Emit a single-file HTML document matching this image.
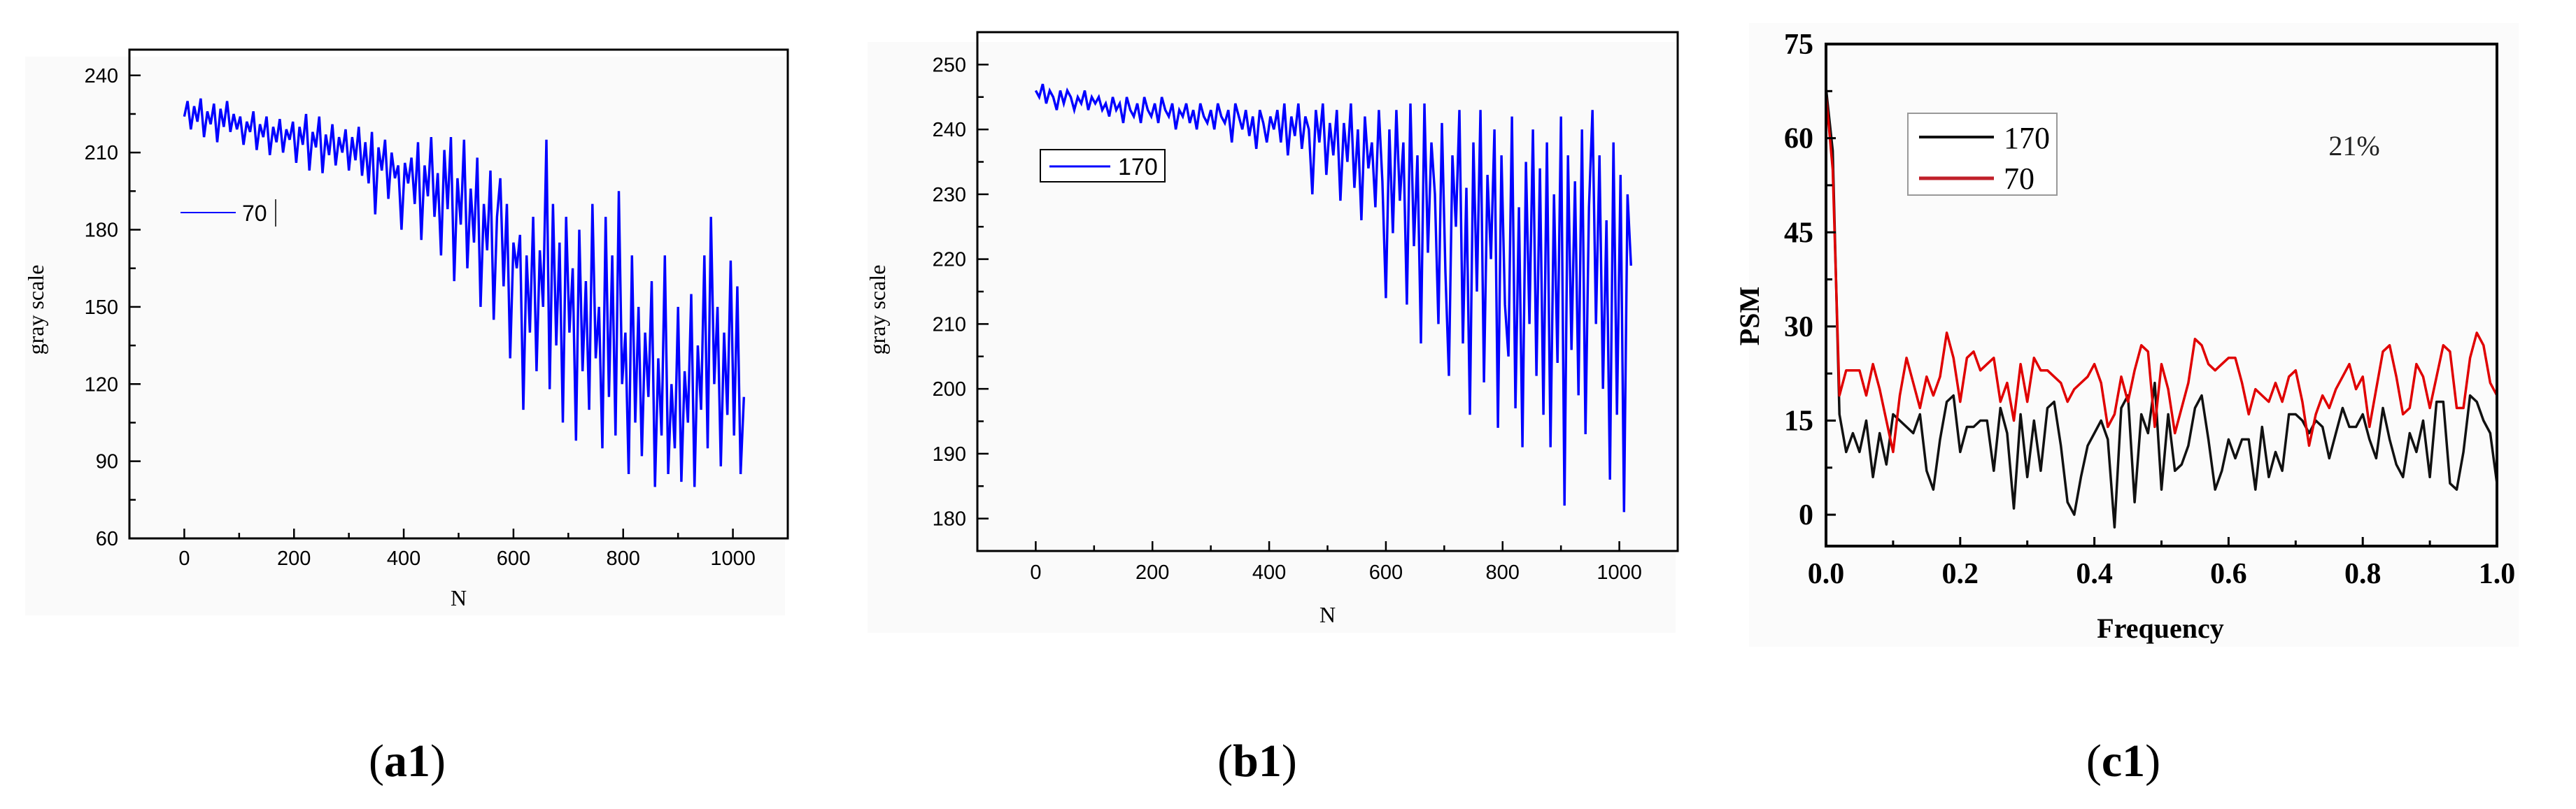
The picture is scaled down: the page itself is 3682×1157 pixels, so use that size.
<!DOCTYPE html>
<html><head><meta charset="utf-8"><style>
html,body{margin:0;padding:0;background:#fff;}
svg{display:block;}
</style></head><body>
<svg id="fig" width="3682" height="1157" xmlns="http://www.w3.org/2000/svg">
<rect x="36" y="81" width="1086" height="799" fill="#fafafa"/>
<rect x="1240" y="60" width="1155" height="845" fill="#fafafa"/>
<rect x="2500" y="33" width="1100" height="892" fill="#fbfbfb"/>
<g id="a1"></g>
<g id="b1"></g>
<g id="c1"></g>
<text x="582" y="1110" text-anchor="middle" font-family="Liberation Serif, serif" font-size="66">(<tspan font-weight="bold">a1</tspan>)</text>
<text x="1797" y="1110" text-anchor="middle" font-family="Liberation Serif, serif" font-size="66">(<tspan font-weight="bold">b1</tspan>)</text>
<text x="3035" y="1110" text-anchor="middle" font-family="Liberation Serif, serif" font-size="66">(<tspan font-weight="bold">c1</tspan>)</text>
</svg>
<script>
const a1Values=[224,230,219,228,222,231,216,226,221,229,214,227,220,230,218,225,219,
224,213,222,218,226,211,221,216,224,209,220,214,223,210,219,215,222,
206,220,213,225,203,218,212,224,202,217,209,221,205,216,210,219,203,
216,207,220,201,214,198,218,186,212,203,215,192,210,200,205,180,206,
198,208,190,214,176,205,193,216,185,202,170,211,188,216,160,200,182,
215,165,196,175,208,150,190,172,203,145,185,200,158,190,130,175,165,
178,110,170,140,185,125,172,150,215,118,190,135,175,105,185,140,165,
98,180,125,160,110,190,130,150,95,185,115,170,100,195,120,140,85,
170,105,150,92,140,115,160,80,130,100,170,85,120,95,150,82,125,
105,155,80,135,110,170,95,185,120,150,88,140,108,168,100,158,85,115];
const b1Values=[246,245,247,244,246,245,243,246,244,246,245,243,245,244,246,243,245,
244,245,243,244,242,245,243,244,241,245,243,242,244,241,245,243,242,
244,241,245,243,242,244,240,243,242,244,241,243,240,244,242,241,243,
240,244,242,241,243,238,244,242,240,243,239,242,237,243,241,238,242,
240,243,238,244,236,242,239,244,237,242,240,230,243,238,244,233,241,
236,243,229,241,235,244,231,240,226,242,234,238,228,243,232,214,240,
224,243,229,238,213,244,222,236,207,244,221,238,230,210,241,218,202,
236,225,243,207,231,196,238,215,243,201,233,220,240,194,236,213,205,
242,197,228,191,235,210,240,202,234,196,238,191,230,204,242,182,236,
206,232,199,240,193,228,243,210,236,200,226,186,238,196,233,181,230,219];
const nStep=6;
const a1YTicks=[60,90,120,150,180,210,240];
const b1YTicks=[180,190,200,210,220,230,240,250];
const nTicks=[0,200,400,600,800,1000];
const c1Black=[68,58,16,10,13,10,15,6,13,8,16,15,14,13,16,7,4,12,18,19,10,14,14,15,15,7,17,13,1,16,6,15,7,17,18,11,2,0,6,11,13,15,12,-2,17,19,2,16,13,21,4,16,7,8,11,17,19,12,4,7,12,9,12,12,4,14,6,10,7,16,16,15,13,15,14,9,13,17,14,14,16,12,9,17,12,8,6,13,10,15,6,18,18,5,4,10,19,18,15,13,5];
const c1Red=[67,55,19,23,23,23,19,24,20,15,10,19,25,21,17,22,19,22,29,25,18,25,26,23,24,25,18,21,15,24,18,25,23,23,22,21,18,20,21,22,24,21,14,16,22,18,23,27,26,14,24,20,13,17,21,28,27,24,23,24,25,25,21,16,20,19,18,21,18,22,23,18,11,16,19,17,20,22,24,20,22,14,20,26,27,22,16,17,24,22,17,22,27,26,17,17,25,29,27,21,19];
const fStep=0.01;
const c1YTicks=[0,15,30,45,60,75];
const c1XTicks=[0,0.2,0.4,0.6,0.8,1.0];

const NS='http://www.w3.org/2000/svg';
function mk(parent,tag,attrs,text){const e=document.createElementNS(NS,tag);for(const k in attrs)e.setAttribute(k,attrs[k]);if(text!==undefined)e.textContent=text;parent.appendChild(e);return e;}

function grayChart(id,box,xDom,yDom,yTicks,yMinorStep,values,legend){
  const g=document.getElementById(id);
  const X=v=>box.l+(v-xDom[0])/(xDom[1]-xDom[0])*(box.r-box.l);
  const Y=v=>box.b-(v-yDom[0])/(yDom[1]-yDom[0])*(box.b-box.t);
  const pts=values.map((v,i)=>X(i*nStep).toFixed(1)+','+Y(v).toFixed(1)).join(' ');
  const pl=mk(g,'polyline',{points:pts,fill:'none',stroke:'#0000ff','stroke-width':3.4,'stroke-linejoin':'miter'});
  
  
  const fr=mk(g,'rect',{x:box.l,y:box.t,width:box.r-box.l,height:box.b-box.t,fill:'none',stroke:'#000','stroke-width':3});
  
  
  yTicks.forEach(t=>{
    const tk=mk(g,'line',{x1:box.l,x2:box.l+16,y1:Y(t),y2:Y(t),stroke:'#000','stroke-width':2.5});
    
    
    const lb=mk(g,'text',{x:box.l-16,y:Y(t)+10,'text-anchor':'end','font-family':'Liberation Sans, sans-serif','font-size':29},String(t));
    
    
    if(t+yMinorStep<yDom[1]){const m=mk(g,'line',{x1:box.l,x2:box.l+9,y1:Y(t+yMinorStep),y2:Y(t+yMinorStep),stroke:'#000','stroke-width':2.5});
      
      }
  });
  nTicks.forEach(t=>{
    const tk=mk(g,'line',{x1:X(t),x2:X(t),y1:box.b,y2:box.b-14,stroke:'#000','stroke-width':2.5});
    
    
    const lb=mk(g,'text',{x:X(t),y:box.lblY,'text-anchor':'middle','font-family':'Liberation Sans, sans-serif','font-size':29},String(t));
    
    
    if(t<1100){const m=mk(g,'line',{x1:X(t+100),x2:X(t+100),y1:box.b,y2:box.b-8,stroke:'#000','stroke-width':2.5});
      
      }
  });
  const xt=mk(g,'text',{x:(box.l+box.r)/2,y:box.nY,'text-anchor':'middle','font-family':'Liberation Serif, serif','font-size':32},'N');
  
  
  const yt=mk(g,'text',{x:0,y:0,transform:`translate(${box.ytX},${box.ytY}) rotate(-90)`,'text-anchor':'middle','font-family':'Liberation Serif, serif','font-size':32},'gray scale');
  
  
  legend(g);
}

grayChart('a1',{l:185,r:1126,t:71,b:770,lblY:808,nY:866,ytX:62,ytY:443},[-100,1100],[60,250],a1YTicks,15,a1Values,g=>{
  const l=mk(g,'line',{x1:258,x2:337,y1:304,y2:304,stroke:'#0000ff','stroke-width':2});
  
  
  const t=mk(g,'text',{x:346,y:316,'font-family':'Liberation Sans, sans-serif','font-size':32},'70');
  
  
  const c=mk(g,'line',{x1:394,x2:394,y1:285,y2:324,stroke:'#000','stroke-width':1.5});
  
  
});
grayChart('b1',{l:1397,r:2398,t:46,b:788,lblY:828,nY:890,ytX:1265,ytY:443},[-100,1100],[175,255],b1YTicks,5,b1Values,g=>{
  const b=mk(g,'rect',{x:1487,y:214,width:178,height:46,fill:'#fff',stroke:'#000','stroke-width':2});
  
  
  const l=mk(g,'line',{x1:1500,x2:1587,y1:238,y2:238,stroke:'#0000ff','stroke-width':3});
  
  
  const t=mk(g,'text',{x:1598,y:250,'font-family':'Liberation Sans, sans-serif','font-size':34},'170');
  
  
});

(function(){
  const g=document.getElementById('c1');
  const box={l:2610,r:3569,t:63,b:781};
  const X=v=>box.l+v*(box.r-box.l);
  const Y=v=>box.b-(v+5)/80*(box.b-box.t);
  const line=(arr,col,name)=>{
    const p=mk(g,'polyline',{points:arr.map((v,i)=>X(i*fStep).toFixed(1)+','+Y(v).toFixed(1)).join(' '),fill:'none',stroke:col,'stroke-width':3.5,'stroke-linejoin':'round'});
    
    
  };
  line(c1Black,'#111','series-170');
  line(c1Red,'#e00000','series-70');
  const fr=mk(g,'rect',{x:box.l,y:box.t,width:box.r-box.l,height:box.b-box.t,fill:'none',stroke:'#000','stroke-width':4});
  
  
  c1YTicks.forEach(t=>{
    const tk=mk(g,'line',{x1:box.l,x2:box.l+14,y1:Y(t),y2:Y(t),stroke:'#000','stroke-width':3});
    
    
    if(t<75){const m=mk(g,'line',{x1:box.l,x2:box.l+9,y1:Y(t+7.5),y2:Y(t+7.5),stroke:'#000','stroke-width':3});
      
      }
    const lb=mk(g,'text',{x:box.l-18,y:Y(t)+14,'text-anchor':'end','font-family':'Liberation Serif, serif','font-weight':'bold','font-size':42},String(t));
    
    
  });
  c1XTicks.forEach(t=>{
    const tk=mk(g,'line',{x1:X(t),x2:X(t),y1:box.b,y2:box.b-13,stroke:'#000','stroke-width':3});
    
    
    if(t<1){const m=mk(g,'line',{x1:X(t+0.1),x2:X(t+0.1),y1:box.b,y2:box.b-8,stroke:'#000','stroke-width':3});
      
      }
    const lb=mk(g,'text',{x:X(t),y:834,'text-anchor':'middle','font-family':'Liberation Serif, serif','font-weight':'bold','font-size':42},t.toFixed(1));
    
    
  });
  const xt=mk(g,'text',{x:3088,y:912,'text-anchor':'middle','font-family':'Liberation Serif, serif','font-weight':'bold','font-size':40},'Frequency');
  
  
  const yt=mk(g,'text',{x:0,y:0,transform:'translate(2514,452) rotate(-90)','text-anchor':'middle','font-family':'Liberation Serif, serif','font-weight':'bold','font-size':40},'PSM');
  
  
  const lb=mk(g,'rect',{x:2727,y:162,width:213,height:117,fill:'#fff',stroke:'#999','stroke-width':2});
  
  
  const l1=mk(g,'line',{x1:2743,x2:2850,y1:196,y2:196,stroke:'#111','stroke-width':4});
  
  
  const t1=mk(g,'text',{x:2864,y:212,'font-family':'Liberation Serif, serif','font-size':44},'170');
  
  
  const l2=mk(g,'line',{x1:2743,x2:2850,y1:255,y2:255,stroke:'#c0202a','stroke-width':5});
  
  
  const t2=mk(g,'text',{x:2864,y:270,'font-family':'Liberation Serif, serif','font-size':44},'70');
  
  
  const an=mk(g,'text',{x:3365,y:222,'text-anchor':'middle','font-family':'Liberation Serif, serif','font-size':40,fill:'#222'},'21%');
  
  
})();
</script>
</body></html>
